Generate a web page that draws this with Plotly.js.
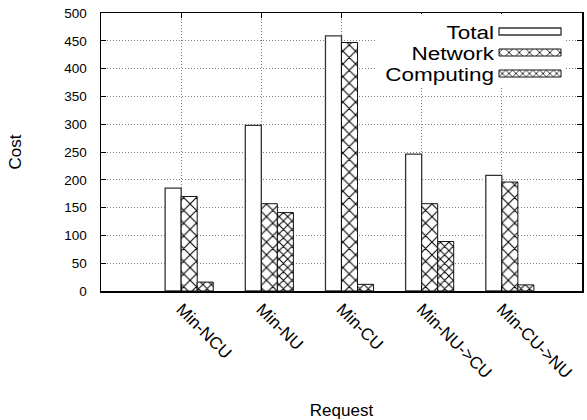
<!DOCTYPE html>
<html>
<head>
<meta charset="utf-8">
<script src="https://cdn.plot.ly/plotly-3.0.1.min.js"></script>
<style>
  html, body { margin: 0; padding: 0; background: #fff; }
  #chart { width: 587px; height: 420px; }
</style>
</head>
<body>
<div id="chart"></div>
<script>
// Cost per request strategy
const requests = ['Min-NCU', 'Min-NU', 'Min-CU', 'Min-NU->CU', 'Min-CU->NU'];
const seriesNames = ['Total', 'Network', 'Computing'];
const totalCost = [185, 298, 459, 246, 208];
const networkCost = [170, 157, 447, 157, 196];
const computingCost = [16, 141, 12, 89, 11];
const costTicks = [0, 50, 100, 150, 200, 250, 300, 350, 400, 450, 500];

const FONT = 'Liberation Sans, Arial, Helvetica, sans-serif';
const GRID_DASH = '1px,2px';

const traces = [
  {
    type: 'bar', name: seriesNames[0], x: requests, y: totalCost,
    width: 0.2, offset: -0.2, hoverinfo: 'skip',
    marker: { color: '#ffffff', line: { color: '#333333', width: 1.3 } }
  },
  {
    type: 'bar', name: seriesNames[1], x: requests, y: networkCost,
    width: 0.2, offset: 0, hoverinfo: 'skip',
    marker: {
      color: '#ffffff',
      line: { color: '#111111', width: 1 },
      pattern: { shape: 'x', fgcolor: '#000000', bgcolor: '#ffffff', size: 9, solidity: 0.22 }
    }
  },
  {
    type: 'bar', name: seriesNames[2], x: requests, y: computingCost,
    width: 0.2, offset: 0.2, hoverinfo: 'skip',
    marker: {
      color: '#ffffff',
      line: { color: '#111111', width: 1 },
      pattern: { shape: 'x', fgcolor: '#000000', bgcolor: '#ffffff', size: 6, solidity: 0.3 }
    }
  }
];

const layout = {
  width: 587, height: 420,
  margin: { l: 101, r: 5, t: 13, b: 129, pad: 0 },
  paper_bgcolor: '#ffffff', plot_bgcolor: '#ffffff',
  font: { family: FONT, color: '#000000' },
  barmode: 'overlay',
  showlegend: true,
  legend: {
    x: 1, xanchor: 'right', y: 1, yanchor: 'top',
    bgcolor: '#ffffff', borderwidth: 0,
    font: { family: FONT, size: 18, color: '#000000' },
    traceorder: 'normal'
  },
  xaxis: {
    type: 'category', categoryorder: 'array', categoryarray: requests,
    range: [-1, 5],
    tickangle: 45,
    tickfont: { family: FONT, size: 17 },
    showgrid: true, gridcolor: '#808080', griddash: GRID_DASH, gridwidth: 1,
    showline: true, mirror: 'ticks', linecolor: '#000000', linewidth: 1.5,
    ticks: 'inside', ticklen: 5, tickcolor: '#000000',
    zeroline: false,
    title: { text: 'Request', font: { family: FONT, size: 17 }, standoff: 26 }
  },
  yaxis: {
    range: [0, 500],
    tickvals: costTicks,
    tickfont: { family: FONT, size: 13.5 },
    ticklabelstandoff: 10,
    showgrid: true, gridcolor: '#808080', griddash: GRID_DASH, gridwidth: 1,
    showline: true, mirror: 'ticks', linecolor: '#000000', linewidth: 1.5,
    ticks: 'inside', ticklen: 5, tickcolor: '#000000',
    zeroline: false,
    title: { text: 'Cost', font: { family: FONT, size: 17 }, standoff: 38 }
  }
};

const gd = document.getElementById('chart');
Plotly.newPlot(gd, traces, layout, { staticPlot: true, displayModeBar: false }).then(function () {
  // gnuplot-style key: right-aligned, slightly widened labels with wide swatches on their right
  const legend = gd.querySelector('g.legend');
  if (!legend) return;
  const scroll = legend.querySelector('.scrollbox');
  if (scroll) scroll.removeAttribute('clip-path');
  const rowY = [31.5, 52.5, 73.5];
  const textRight = 494;
  legend.querySelectorAll('g.traces').forEach(function (t, i) {
    const p = t.parentNode.getScreenCTM();
    t.setAttribute('transform', 'translate(' + (-p.e) + ',' + (rowY[i] - p.f) + ')');
    const txt = t.querySelector('text.legendtext');
    if (txt) {
      txt.setAttribute('text-anchor', 'end');
      txt.setAttribute('x', textRight);
      txt.querySelectorAll('tspan').forEach(function (s) { if (s.hasAttribute('x')) s.setAttribute('x', textRight); });
      txt.setAttribute('transform',
        'translate(' + textRight + ',0) scale(1.25,1) translate(' + (-textRight) + ',0)');
    }
    t.querySelectorAll('.legendpoints path').forEach(function (path) {
      path.setAttribute('d', 'M499,-3.5H561V3.5H499Z');
      path.removeAttribute('transform');
      t.appendChild(path);
    });
  });
  const bg = legend.querySelector('rect.bg');
  if (bg) {
    const lp = bg.parentNode.getScreenCTM();
    bg.setAttribute('x', 376 - lp.e);
    bg.setAttribute('y', 14 - lp.f);
    bg.setAttribute('width', 190);
    bg.setAttribute('height', 74);
    bg.style.strokeWidth = '0px';
  }
});
</script>
</body>
</html>
